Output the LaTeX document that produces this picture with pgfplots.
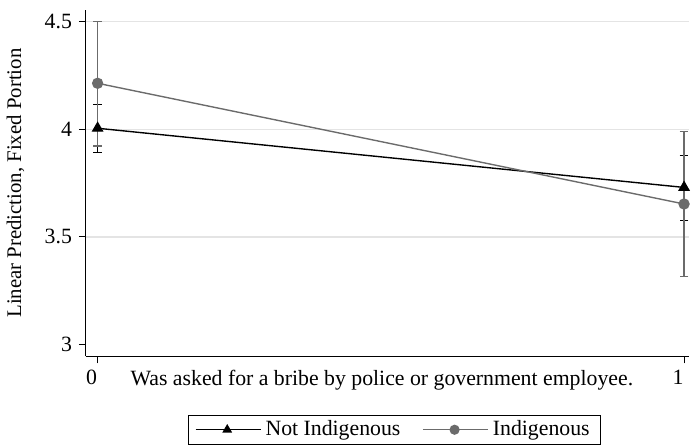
\documentclass[border=0pt]{standalone}
\usepackage{pgfplots}
\pgfplotsset{compat=1.18}
\usepackage{fontspec}
\setmainfont{Liberation Serif}
\definecolor{stgray}{HTML}{6B6B6B}
\definecolor{gridgray}{HTML}{E4E4E4}

\begin{document}
\begin{tikzpicture}
\begin{axis}[
    scale only axis,
    width=304.5pt, height=175pt,
    xmin=-0.02, xmax=1.008,
    ymin=2.945, ymax=4.555,
    axis lines=left,
    axis line style={-, black, line width=0.6pt},
    xtick={0,1}, ytick={3,3.5,4,4.5},
    yticklabels={3,3.5,4,4.5},
    tick align=outside,
    major tick length=3.5pt,
    tick style={black, line width=0.5pt},
    extra y ticks={3.5,4,4.5},
    extra y tick labels={},
    extra y tick style={ymajorgrids=true, major tick length=0pt},
    grid style={gridgray, line width=0.6pt},
    ticklabel style={font=\fontsize{11}{12}\selectfont},
    xticklabel style={xshift=-3pt},
    /pgf/number format/assume math mode=true,
    xlabel={Was asked for a bribe by police or government employee.},
    xlabel style={font=\fontsize{11}{12}\selectfont, at={(axis description cs:0.491,0)}, anchor=north, yshift=-3.5pt},
    ylabel={Linear Prediction, Fixed Portion},
    ylabel style={font=\fontsize{10.5}{12}\selectfont},
    legend style={at={(0.5,0)}, anchor=north, yshift=-29.5pt, xshift=3.5pt, draw=black,
        font=\fontsize{11}{12}\selectfont, inner xsep=3.5pt, inner ysep=0.8pt, row sep=0pt,
        /tikz/every even column/.append style={column sep=9pt}},
    legend columns=2,
    legend cell align=left,
    legend image code/.code={
        \draw[mark repeat=2, mark phase=2, mark size=2.2pt] plot coordinates {(0pt,0pt) (16pt,0pt) (33pt,0pt)};
    },
    clip=false,
]
% Not Indigenous
\addplot[black, line width=0.7pt, mark=triangle*, mark size=2.8pt,
    error bars/.cd, y dir=both, y explicit,
    error bar style={black, line width=0.7pt}, error mark options={rotate=90, mark size=2.2pt, black, line width=0.7pt}]
    table[x=x, y=y, y error plus=ep, y error minus=em] {
    x y ep em
    0 4.005 0.111 0.112
    1 3.730 0.148 0.155
};
\addlegendentry{Not Indigenous}
% Indigenous
\addplot[stgray, line width=0.7pt, mark=*, mark size=2.5pt,
    error bars/.cd, y dir=both, y explicit,
    error bar style={stgray, line width=0.7pt}, error mark options={rotate=90, mark size=2.2pt, stgray, line width=0.7pt}]
    table[x=x, y=y, y error plus=ep, y error minus=em] {
    x y ep em
    0 4.214 0.288 0.292
    1 3.653 0.337 0.337
};
\addlegendentry{Indigenous}
\end{axis}
\path (current axis.north) ++(0,5pt);
\end{tikzpicture}
\end{document}
